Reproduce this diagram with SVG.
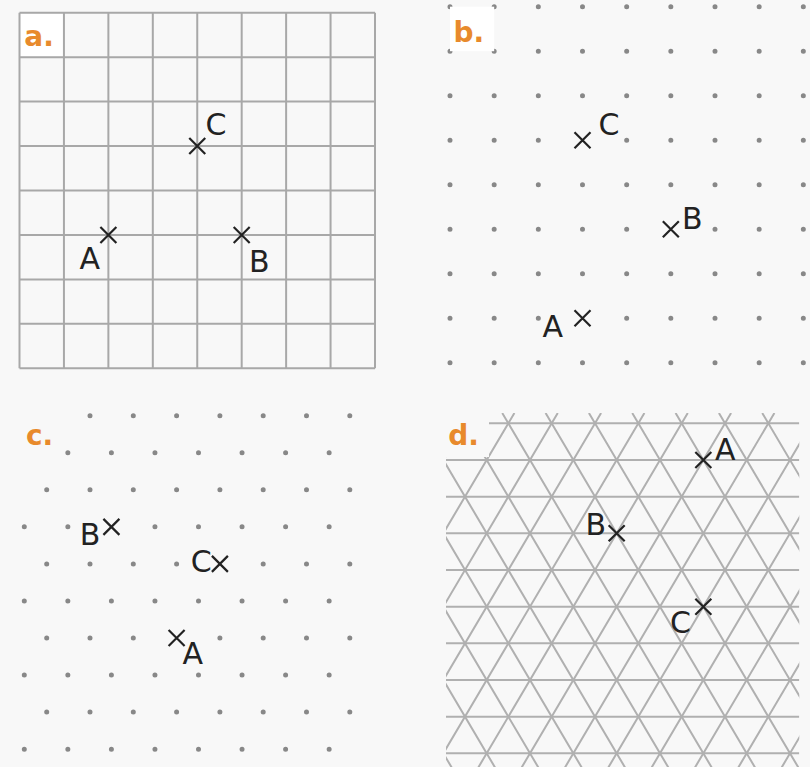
<svg xmlns="http://www.w3.org/2000/svg" width="810" height="767" viewBox="0 0 810 767">
<style>
.grid{fill:none;stroke:#a8a8a8;stroke-width:2}
.tri{fill:none;stroke:#b0b0b0;stroke-width:2}
.dots{fill:none;stroke:#888888;stroke-width:5;stroke-linecap:round}
.lbl{font-family:"DejaVu Sans","Liberation Sans",sans-serif;font-size:30px;fill:#222}
.tag{font-family:"DejaVu Sans","Liberation Sans",sans-serif;font-size:28px;font-weight:bold;fill:#e88a2c}
.box{fill:#ffffff}
.x{fill:none;stroke:#222;stroke-width:2.2}
</style>
<defs>
<path id="cross" d="M-8,-8 L8,8 M-8,8 L8,-8"/>
<clipPath id="clipD"><rect x="446" y="413" width="353.3" height="354"/></clipPath>
</defs>
<rect width="810" height="767" fill="#f8f8f8"/>

<g id="panel-a">
<rect class="box" x="20.5" y="13.7" width="42.4" height="42.4"/>
<path class="grid" d="M19.5,12.7V368.3 M63.94,12.7V368.3 M108.38,12.7V368.3 M152.81,12.7V368.3 M197.25,12.7V368.3 M241.69,12.7V368.3 M286.13,12.7V368.3 M330.56,12.7V368.3 M375,12.7V368.3 M19.5,12.7H375 M19.5,57.15H375 M19.5,101.6H375 M19.5,146.05H375 M19.5,190.5H375 M19.5,234.95H375 M19.5,279.4H375 M19.5,323.85H375 M19.5,368.3H375"/>
<text class="tag" x="24.3" y="45.7">a.</text>
<g id="a-C"><use href="#cross" class="x" x="197.25" y="146.05"/><text class="lbl" x="205.4" y="135">C</text></g>
<g id="a-A"><use href="#cross" class="x" x="108.38" y="234.95"/><text class="lbl" x="79.5" y="269">A</text></g>
<g id="a-B"><use href="#cross" class="x" x="241.69" y="234.95"/><text class="lbl" x="249" y="272">B</text></g>
</g>

<g id="panel-b">
<path class="dots" d="M450,6.7h0M494.17,6.7h0M538.33,6.7h0M582.5,6.7h0M626.67,6.7h0M670.83,6.7h0M715,6.7h0M759.17,6.7h0M803.33,6.7h0
M450,51.2h0M494.17,51.2h0M538.33,51.2h0M582.5,51.2h0M626.67,51.2h0M670.83,51.2h0M715,51.2h0M759.17,51.2h0M803.33,51.2h0
M450,95.7h0M494.17,95.7h0M538.33,95.7h0M582.5,95.7h0M626.67,95.7h0M670.83,95.7h0M715,95.7h0M759.17,95.7h0M803.33,95.7h0
M450,140.2h0M494.17,140.2h0M538.33,140.2h0M626.67,140.2h0M670.83,140.2h0M715,140.2h0M759.17,140.2h0M803.33,140.2h0
M450,184.7h0M494.17,184.7h0M538.33,184.7h0M582.5,184.7h0M626.67,184.7h0M670.83,184.7h0M715,184.7h0M759.17,184.7h0M803.33,184.7h0
M450,229.2h0M494.17,229.2h0M538.33,229.2h0M582.5,229.2h0M626.67,229.2h0M715,229.2h0M759.17,229.2h0M803.33,229.2h0
M450,273.7h0M494.17,273.7h0M538.33,273.7h0M582.5,273.7h0M626.67,273.7h0M670.83,273.7h0M715,273.7h0M759.17,273.7h0M803.33,273.7h0
M450,318.2h0M494.17,318.2h0M538.33,318.2h0M626.67,318.2h0M670.83,318.2h0M715,318.2h0M759.17,318.2h0M803.33,318.2h0
M450,362.7h0M494.17,362.7h0M538.33,362.7h0M582.5,362.7h0M626.67,362.7h0M670.83,362.7h0M715,362.7h0M759.17,362.7h0M803.33,362.7h0"/>
<rect class="box" x="450" y="6.7" width="44.17" height="44.5"/>
<text class="tag" x="453.5" y="41.7">b.</text>
<g id="b-C"><use href="#cross" class="x" x="582.5" y="140.2"/><text class="lbl" x="598.4" y="135">C</text></g>
<g id="b-B"><use href="#cross" class="x" x="670.83" y="229.2"/><text class="lbl" x="682" y="229">B</text></g>
<g id="b-A"><use href="#cross" class="x" x="582.5" y="318.2"/><text class="lbl" x="542.5" y="337">A</text></g>
</g>

<g id="panel-c">
<path class="dots" d="M90,415.7h0M133.3,415.7h0M176.6,415.7h0M219.9,415.7h0M263.2,415.7h0M306.5,415.7h0M349.8,415.7h0
M67.85,452.75h0M111.4,452.75h0M154.95,452.75h0M198.5,452.75h0M242.05,452.75h0M285.6,452.75h0M329.15,452.75h0
M46.7,489.8h0M90,489.8h0M133.3,489.8h0M176.6,489.8h0M219.9,489.8h0M263.2,489.8h0M306.5,489.8h0M349.8,489.8h0
M24.3,526.85h0M67.85,526.85h0M154.95,526.85h0M198.5,526.85h0M242.05,526.85h0M285.6,526.85h0M329.15,526.85h0
M46.7,563.9h0M90,563.9h0M133.3,563.9h0M176.6,563.9h0M263.2,563.9h0M306.5,563.9h0M349.8,563.9h0
M24.3,600.95h0M67.85,600.95h0M111.4,600.95h0M154.95,600.95h0M198.5,600.95h0M242.05,600.95h0M285.6,600.95h0M329.15,600.95h0
M46.7,638h0M90,638h0M133.3,638h0M219.9,638h0M263.2,638h0M306.5,638h0M349.8,638h0
M24.3,675.05h0M67.85,675.05h0M111.4,675.05h0M154.95,675.05h0M198.5,675.05h0M242.05,675.05h0M285.6,675.05h0M329.15,675.05h0
M46.7,712.1h0M90,712.1h0M133.3,712.1h0M176.6,712.1h0M219.9,712.1h0M263.2,712.1h0M306.5,712.1h0M349.8,712.1h0
M24.3,749.15h0M67.85,749.15h0M111.4,749.15h0M154.95,749.15h0M198.5,749.15h0M242.05,749.15h0M285.6,749.15h0M329.15,749.15h0"/>
<text class="tag" x="26" y="445">c.</text>
<g id="c-B"><use href="#cross" class="x" x="111.4" y="526.85"/><text class="lbl" x="79.8" y="545">B</text></g>
<g id="c-C"><use href="#cross" class="x" x="219.9" y="563.9"/><text class="lbl" x="190.7" y="572">C</text></g>
<g id="c-A"><use href="#cross" class="x" x="176.6" y="638"/><text class="lbl" x="182.5" y="664">A</text></g>
</g>

<g id="panel-d">
<g clip-path="url(#clipD)">
<path class="tri" d="M446,423.33H799.3 M446,460H799.3 M446,496.67H799.3 M446,533.33H799.3 M446,570H799.3 M446,606.67H799.3 M446,643.33H799.3 M446,680H799.3 M446,716.67H799.3 M446,753.33H799.3"/>
<path class="tri" d="M242.24,413L465,790 M285.58,413L508.33,790 M328.91,413L551.67,790 M372.24,413L595,790 M415.58,413L638.33,790 M458.91,413L681.67,790 M502.24,413L725,790 M545.58,413L768.33,790 M588.91,413L811.67,790 M632.24,413L855,790 M675.58,413L898.33,790 M718.91,413L941.67,790 M762.24,413L985,790"/>
<path class="tri" d="M471.09,413L248.33,790 M514.42,413L291.67,790 M557.76,413L335,790 M601.09,413L378.33,790 M644.42,413L421.67,790 M687.76,413L465,790 M731.09,413L508.33,790 M774.42,413L551.67,790 M817.76,413L595,790 M861.09,413L638.33,790 M904.42,413L681.67,790 M947.76,413L725,790 M991.09,413L768.33,790"/>
</g>
<rect x="444" y="411" width="45" height="46" fill="#f8f8f8"/>
<text class="tag" x="448.3" y="445">d.</text>
<g id="d-A"><use href="#cross" class="x" x="703.33" y="460"/><text class="lbl" x="715" y="460">A</text></g>
<g id="d-B"><use href="#cross" class="x" x="616.67" y="533.33"/><text class="lbl" x="585.4" y="535">B</text></g>
<g id="d-C"><use href="#cross" class="x" x="703.33" y="606.67"/><text class="lbl" x="670" y="633">C</text></g>
</g>
</svg>
